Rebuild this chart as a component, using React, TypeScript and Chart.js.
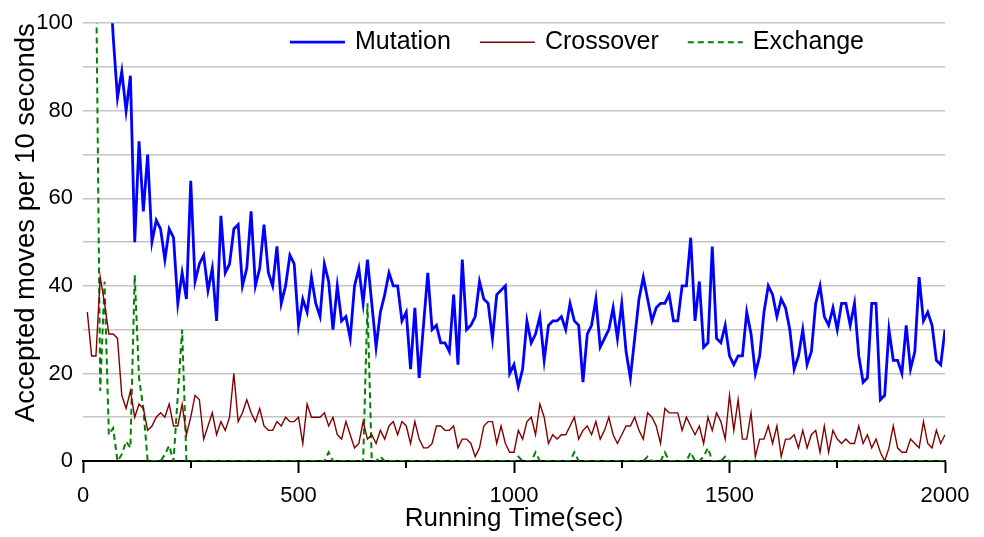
import { useEffect, useRef } from 'react';
import { Chart, registerables } from 'chart.js';

Chart.register(...registerables);

const FONT = '"Liberation Sans", Arial, sans-serif';

// Sampling instants (seconds), one every 10 s
const times: number[] = Array.from({ length: 200 }, (_, i) => (i + 1) * 10);

// Accepted moves per 10 s window
const mutation: (number | null)[] = [
  null, null, null, null, null, 115, 97, 83, 89, 80,
  88, 50, 73, 57, 70, 50, 55, 53, 46, 53,
  51, 36, 43, 37, 64, 41, 45, 47, 39, 44,
  32, 56, 43, 45, 53, 54, 40, 44, 57, 40,
  44, 54, 43, 40, 49, 36, 40, 47, 45, 31,
  37, 34, 42, 36, 33, 45, 41, 30, 40, 32,
  33, 28, 40, 44, 36, 46, 36, 26, 34, 38,
  43, 40, 40, 32, 34, 21, 35, 19, 31, 43,
  30, 31, 27, 27, 25, 38, 22, 46, 30, 31,
  33, 41, 37, 36, 28, 38, 39, 40, 20, 22,
  17, 21, 32, 27, 29, 33, 23, 31, 32, 32,
  33, 30, 36, 32, 31, 18, 29, 31, 37, 26,
  28, 30, 35, 28, 36, 25, 19, 28, 37, 42,
  37, 32, 35, 36, 36, 38, 32, 32, 40, 40,
  51, 32, 41, 26, 27, 49, 28, 27, 31, 24,
  22, 24, 24, 34, 29, 20, 24, 34, 40, 38,
  33, 37, 35, 30, 21, 24, 30, 22, 25, 36,
  40, 33, 31, 35, 30, 36, 36, 31, 36, 24,
  18, 19, 36, 36, 14, 15, 30, 23, 23, 20,
  31, 21, 25, 42, 32, 34, 31, 23, 22, 30,
];

const crossover: number[] = [
  34, 24, 24, 42, 36, 29, 29, 28, 15, 12,
  16, 10, 13, 12, 7, 8, 10, 11, 10, 13,
  8, 8, 13, 6, 10, 15, 14, 5, 8, 11,
  6, 9, 7, 10, 20, 9, 11, 14, 11, 9,
  12, 8, 7, 7, 9, 8, 10, 9, 9, 10,
  4, 13, 10, 10, 10, 11, 8, 10, 6, 5,
  9, 6, 3, 4, 9, 5, 6, 4, 7, 5,
  8, 9, 6, 9, 8, 4, 9, 5, 3, 3,
  4, 8, 8, 7, 7, 8, 3, 5, 5, 4,
  1, 3, 8, 9, 9, 4, 8, 4, 2, 2,
  7, 5, 9, 10, 6, 13, 10, 4, 6, 5,
  6, 6, 8, 10, 5, 7, 8, 6, 9, 5,
  7, 10, 6, 4, 6, 8, 8, 10, 7, 5,
  11, 10, 8, 4, 12, 11, 11, 11, 7, 10,
  8, 6, 8, 4, 10, 7, 11, 9, 5, 15,
  7, 14, 5, 5, 11, 1, 5, 5, 8, 4,
  8, 1, 5, 5, 6, 3, 7, 3, 6, 7,
  2, 8, 2, 7, 5, 4, 5, 4, 4, 8,
  4, 6, 3, 5, 2, 0, 3, 8, 3, 2,
  2, 5, 4, 3, 9, 4, 3, 7, 4, 6,
];

const exchange: (number | null)[] = [
  null, null, 115, 16, 41, 6, 7.5, 0, 1.5, 4.5,
  3, 42.5, 19, 12, 0, 0, 0, 0, 1.5, 3.5,
  0, 15, 30, 0, 0, 0, 0, 0, 0, 0,
  0, 0, 0, 0, 0, 0, 0, 0, 0, 0,
  0, 0, 0, 0, 0, 0, 0, 0, 0, 0,
  0, 0, 0, 0, 0, 0, 2, 0, 0, 0,
  0, 0, 0, 0, 0, 36, 0, 0, 1, 0,
  0, 0, 0, 0, 0, 0, 0, 0, 0, 0,
  0, 0, 0, 0, 0, 0, 0, 0, 0, 0,
  0, 0, 0, 0, 0, 0, 0, 0, 0, 0,
  1, 0, 0, 0, 2, 0, 0, 0, 0, 0,
  0, 0, 0, 2, 0, 0, 0, 0, 0, 0,
  0, 0, 0, 0, 0, 0, 0, 0, 0, 0,
  1, 0, 0, 0, 2, 0, 0, 0, 0, 0,
  2, 0, 0, 1, 3, 0, 0, 0, 1, 0,
  0, 0, 0, 0, 0, 0, 0, 0, 0, 0,
  0, 0, 0, 0, 0, 0, 0, 0, 0, 0,
  0, 0, 0, 0, 0, 0, 0, 0, 0, 0,
  0, 0, 0, 0, 0, 0, 0, 0, 0, 0,
  0, 0, 0, 0, 0, 0, 0, 0, 0, 0,
];

const seriesLabels = ['Mutation', 'Crossover', 'Exchange'];
const xMajorTicks = [0, 500, 1000, 1500, 2000];
const xMinorTicks = [250, 750, 1250, 1750];

const toPoints = (vals: (number | null)[]) => times.map((t, i) => ({ x: t, y: vals[i] }));

// Short ticks between the labelled ones on the time axis
const minorTickPlugin = {
  id: 'minorTicks',
  afterDraw(chart: any) {
    const sx = chart.scales.x;
    const ctx = chart.ctx;
    ctx.save();
    ctx.strokeStyle = '#000';
    ctx.lineWidth = 2;
    for (const v of xMinorTicks) {
      const px = Math.round(sx.getPixelForValue(v));
      ctx.beginPath();
      ctx.moveTo(px, sx.top);
      ctx.lineTo(px, sx.top + 7);
      ctx.stroke();
    }
    ctx.restore();
  },
};

// Line-sample legend drawn inside the plot, near the top
const lineLegendPlugin = {
  id: 'lineLegend',
  afterDraw(chart: any) {
    const { ctx, chartArea } = chart;
    ctx.save();
    ctx.font = `25px ${FONT}`;
    ctx.textBaseline = 'middle';
    ctx.textAlign = 'left';
    let x = chartArea.left + 207;
    const y = chartArea.top + 19;
    chart.data.datasets.forEach((ds: any) => {
      ctx.strokeStyle = ds.borderColor;
      ctx.lineWidth = ds.borderWidth;
      ctx.setLineDash(ds.borderDash || []);
      ctx.beginPath();
      ctx.moveTo(x, y);
      ctx.lineTo(x + 55, y);
      ctx.stroke();
      ctx.setLineDash([]);
      ctx.fillStyle = '#000';
      ctx.fillText(ds.label, x + 65, y);
      x += 65 + ctx.measureText(ds.label).width + 29;
    });
    ctx.restore();
  },
};

export default function App() {
  const canvasRef = useRef<HTMLCanvasElement | null>(null);

  useEffect(() => {
    if (!canvasRef.current) return;
    const chart = new Chart(canvasRef.current, {
      type: 'line',
      data: {
        datasets: [
          {
            label: seriesLabels[0],
            data: toPoints(mutation),
            borderColor: '#0000ff',
            borderWidth: 2.8,
            pointRadius: 0,
            tension: 0,
          },
          {
            label: seriesLabels[1],
            data: toPoints(crossover),
            borderColor: '#800000',
            borderWidth: 1.4,
            pointRadius: 0,
            tension: 0,
          },
          {
            label: seriesLabels[2],
            data: toPoints(exchange),
            borderColor: '#008000',
            borderWidth: 2,
            borderDash: [6, 4],
            pointRadius: 0,
            tension: 0,
          },
        ],
      },
      options: {
        responsive: false,
        animation: false,
        layout: { padding: { left: 0, right: 39, top: 20, bottom: 0 } },
        plugins: {
          legend: { display: false },
          tooltip: { enabled: false },
        },
        scales: {
          x: {
            type: 'linear',
            min: 0,
            max: 2000,
            afterBuildTicks: (scale: any) => {
              scale.ticks = xMajorTicks.map((v) => ({ value: v }));
            },
            ticks: {
              autoSkip: false,
              maxRotation: 0,
              padding: 10,
              color: '#000',
              font: { size: 22, family: FONT },
              callback: (v: any) => String(v),
            },
            grid: {
              drawOnChartArea: false,
              drawTicks: true,
              tickLength: 12,
              tickWidth: 2,
              tickColor: '#000',
            },
            border: { display: true, color: '#000', width: 2 },
            title: {
              display: true,
              text: 'Running Time(sec)',
              color: '#000',
              font: { size: 26, family: FONT },
              padding: { top: 0, bottom: 3 },
            },
            afterFit: (scale: any) => {
              scale.height = 76;
            },
          },
          y: {
            min: 0,
            max: 100,
            ticks: {
              stepSize: 10,
              padding: 10,
              color: '#000',
              font: { size: 22, family: FONT },
              callback: (v: any) => (Number(v) % 20 === 0 ? String(v) : ''),
            },
            grid: {
              drawTicks: false,
              lineWidth: 1.5,
              color: (c: any) => (c.tick && c.tick.value === 0 ? 'rgba(0,0,0,0)' : '#c4c4c4'),
            },
            border: { display: false },
            title: {
              display: true,
              text: 'Accepted moves per 10 seconds',
              color: '#000',
              align: 'end',
              font: { size: 27.5, family: FONT },
              padding: { top: 10, bottom: 0 },
            },
            afterFit: (scale: any) => {
              scale.width = 83;
            },
          },
        },
      },
      plugins: [minorTickPlugin, lineLegendPlugin],
    });
    return () => chart.destroy();
  }, []);

  return (
    <div style={{ position: 'absolute', left: 0, top: 0, width: 984, height: 537, background: '#fff' }}>
      <canvas ref={canvasRef} width={984} height={537} />
    </div>
  );
}
